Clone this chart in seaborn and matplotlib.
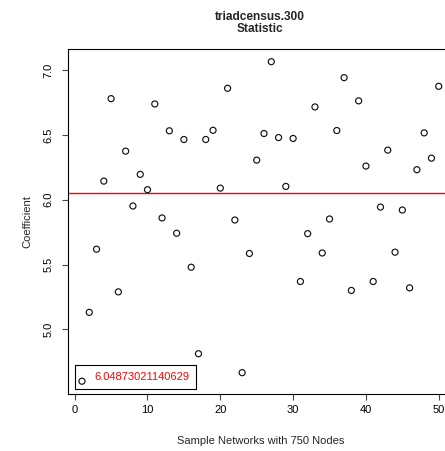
import matplotlib
matplotlib.use("Agg")
import matplotlib.pyplot as plt
from matplotlib.lines import Line2D
import seaborn as sns
import pandas as pd

# Coefficient of the triadcensus.300 statistic for each sampled network
network_ids = list(range(1, 51))
coefficients = [
    4.600, 5.131, 5.618, 6.143, 6.779, 5.289, 6.374, 5.951, 6.195, 6.077,
    6.738, 5.859, 6.531, 5.741, 6.464, 5.479, 4.812, 6.464, 6.535, 6.089,
    6.859, 5.843, 4.666, 5.585, 6.305, 6.510, 7.064, 6.479, 6.102, 6.472,
    5.369, 5.738, 6.715, 5.589, 5.851, 6.533, 6.941, 5.300, 6.762, 6.259,
    5.369, 5.943, 6.382, 5.595, 5.920, 5.320, 6.231, 6.515, 6.320, 6.874,
]
reference_value = 6.04873021140629
reference_label = "6.04873021140629"

x_ticks = [0, 10, 20, 30, 40, 50]
y_ticks = [5.0, 5.5, 6.0, 6.5, 7.0]
y_tick_labels = ["5.0", "5.5", "6.0", "6.5", "7.0"]

title_text = "triadcensus.300\nStatistic"
x_label = "Sample Networks with 750 Nodes"
y_label = "Coefficient"

sns.set_style("ticks")
plt.rcParams["font.family"] = ["Liberation Sans", "DejaVu Sans"]

df = pd.DataFrame({"network": network_ids, "coefficient": coefficients})

W, H = 445, 451
fig = plt.figure(figsize=(W / 100, H / 100), dpi=100)
ax_left, ax_right, ax_top, ax_bottom = 67.7, 453.0, 48.9, 394.0
ax = fig.add_axes([ax_left / W, 1 - ax_bottom / H,
                   (ax_right - ax_left) / W, (ax_bottom - ax_top) / H])

sns.scatterplot(data=df, x="network", y="coefficient", ax=ax,
                marker="o", s=19, facecolors="none", edgecolor="#111111",
                linewidth=0.85, zorder=3)

ax.axhline(reference_value, color="red", lw=1.0, zorder=2)

# R-style 4% padding of the data range
xlo, xhi = min(network_ids), max(network_ids)
xpad = 0.04 * (xhi - xlo)
ylo, yhi = min(coefficients), max(coefficients)
ypad = 0.04 * (yhi - ylo)
ax.set_xlim(xlo - xpad, xhi + xpad)
ax.set_ylim(ylo - ypad, yhi + ypad)

ax.set_xticks(x_ticks)
ax.set_xticklabels([str(t) for t in x_ticks])
ax.set_yticks(y_ticks)
ax.set_yticklabels(y_tick_labels)

ax.tick_params(axis="both", direction="out", length=4, width=0.8,
               color="#444444", labelsize=8, labelcolor="black")
ax.tick_params(axis="x", pad=4)
ax.tick_params(axis="y", pad=6, labelrotation=90)
for lab in ax.get_yticklabels():
    lab.set_va("center")

for side in ["left", "right", "top", "bottom"]:
    ax.spines[side].set_visible(True)
    ax.spines[side].set_color("black")
    ax.spines[side].set_linewidth(0.8)

ax.set_xlabel(x_label, fontsize=8, labelpad=15)
ax.set_ylabel(y_label, fontsize=8, labelpad=8)
ax.set_title(title_text, fontsize=8.6, fontweight="bold", linespacing=1.0, pad=12)

handle = Line2D([], [], linestyle="none")
leg = ax.legend([handle], [reference_label], loc="lower left",
                bbox_to_anchor=((75 - ax_left) / (ax_right - ax_left),
                                (ax_bottom - 388.7) / (ax_bottom - ax_top)),
                borderaxespad=0, fancybox=False, framealpha=1,
                edgecolor="black", fontsize=8, handlelength=0.5,
                handletextpad=0.6, borderpad=0.6)
leg.get_frame().set_linewidth(0.8)
leg.get_frame().set_facecolor("none")
leg.set_zorder(1)
for t in leg.get_texts():
    t.set_color("red")

fig.savefig("out.png", dpi=100)
